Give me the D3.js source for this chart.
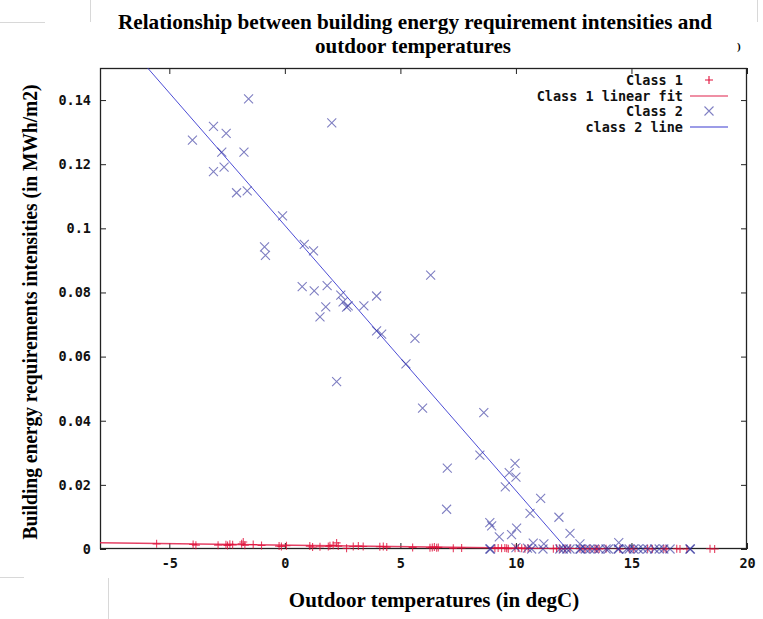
<!DOCTYPE html>
<html><head><meta charset="utf-8">
<script src="https://cdn.jsdelivr.net/npm/d3@7/dist/d3.min.js"></script>
<style>
html,body{margin:0;padding:0;background:#fff;}
svg{display:block;}
</style></head>
<body>
<script>
// ---- data ----
const titleLines = ["Relationship between building energy requirement intensities and", "outdoor temperatures"];
const xLabel = "Outdoor temperatures (in degC)";
const yLabel = "Building energy requirements intensities (in MWh/m2)";
const xTicks = [-5, 0, 5, 10, 15, 20];
const xTickLabels = ["-5", "0", "5", "10", "15", "20"];
const yTicks = [0, 0.02, 0.04, 0.06, 0.08, 0.1, 0.12, 0.14];
const yTickLabels = ["0", "0.02", "0.04", "0.06", "0.08", "0.1", "0.12", "0.14"];
const legendLabels = ["Class 1", "Class 1 linear fit", "Class 2", "class 2 line"];

// Class 1 points (temperature, intensity)
const class1X = [-5.55,-3.97,-3.85,-2.89,-2.55,-2.48,-2.38,-2.26,-1.87,-1.80,-1.73,-1.37,-1.01,-0.25,-0.15,0.07,
  1.08,1.20,1.52,1.88,1.95,2.09,2.24,2.31,2.67,2.96,3.18,3.39,4.11,4.26,4.41,5.53,
  6.28,6.38,6.47,6.57,6.64,7.29,7.65,9.09,9.23,9.38,9.52,9.60,9.67,9.96,10.10,10.25,10.39,10.53,
  11.62,11.76,11.90,12.12,12.34,12.77,12.99,13.20,13.42,13.50,13.60,13.90,14.50,14.90,15.10,15.70,15.90,
  16.40,16.50,16.96,17.10,17.40,18.40,18.60];
const class1Y = [0.0016,0.0014,0.0012,0.0012,0.0013,0.0011,0.0015,0.0013,0.0016,0.0022,0.0012,0.0014,0.0011,0.0009,0.0008,0.0010,
  0.0009,0.0006,0.0007,0.0008,0.0010,0.0012,0.0019,0.0009,0.0002,0.0008,0.0009,0.0008,0.0007,0.0008,0.0006,0.0005,
  0.0004,0.0005,0.0006,0.0004,0.0005,0.0002,0.0003,0.0002,0.0003,0.0002,0.0003,0.0002,0.0001,0.0002,0.0003,0.0002,0.0001,0.0002,
  0.0001,0.0002,0.0001,0.0001,0.0002,0.0001,0.0000,0.0001,0.0000,0.0001,0.0000,0.0001,0.0000,0.0001,0.0000,0.0001,0.0000,
  0.0001,0.0000,0.0001,0.0000,0.0000,0.0001,0.0000];

// Class 2 points
const class2X = [-4.00,-3.09,-2.54,-2.73,-3.09,-2.63,-1.77,-1.57,-2.09,-1.63,-0.10,-0.88,-0.84,0.84,1.24,0.75,1.27,1.83,1.77,2.03,
  1.52,2.42,2.52,2.67,2.74,3.42,3.97,3.97,4.19,6.31,5.63,5.24,2.24,5.96,8.61,8.44,7.03,9.96,9.71,10.00,9.54,7.00,11.07,10.61,11.86,
  12.34,8.87,8.95,9.28,9.81,10.03,10.75,11.21,12.77,14.45,
  8.87,8.90,10.00,10.50,10.68,11.17,11.90,12.05,12.20,12.34,12.77,12.80,13.00,13.20,13.40,13.60,13.90,14.00,14.42,14.45,14.80,14.90,
  15.10,15.30,15.50,15.70,16.00,16.20,16.40,16.67,17.53,17.55];
const class2Y = [0.1275,0.1318,0.1296,0.1238,0.1177,0.1191,0.1238,0.1404,0.1111,0.1117,0.1039,0.0942,0.0916,0.0950,0.0930,0.0818,0.0805,0.0821,0.0755,0.1329,
  0.0724,0.0792,0.0771,0.0754,0.0758,0.0758,0.0789,0.0680,0.0670,0.0854,0.0657,0.0577,0.0522,0.0439,0.0425,0.0293,0.0252,0.0267,0.0238,0.0224,0.0194,0.0124,0.0158,0.0111,0.0099,
  0.0049,0.0082,0.0072,0.0038,0.0045,0.0065,0.0018,0.0016,0.0016,0.0020,
  0.0000,0.0000,0.0004,0.0003,0.0000,0.0000,0.0000,0.0000,0.0000,0.0000,0.0000,0.0000,0.0000,0.0000,0.0000,0.0000,0.0000,0.0000,0.0000,0.0000,0.0000,0.0000,
  0.0000,0.0000,0.0000,0.0000,0.0000,0.0000,0.0000,0.0000,0.0000,0.0000];

// Fit lines (intercept, slope) and x extents
const fit1 = {intercept: 0.00120, slope: -0.0000925, xFrom: -8, xTo: 18.7};
const fit2 = {intercept: 0.1009, slope: -0.00827, xFrom: -8, xTo: 12.2};

// ---- layout ----
const W = 763, H = 619;
const pL = 100, pR = 747, pT = 68, pB = 549;
const xDomain = [-8, 20], yDomain = [0, 0.15];

const svg = d3.select("body").append("svg").attr("width", W).attr("height", H);
const x = d3.scaleLinear().domain(xDomain).range([pL, pR]);
const y = d3.scaleLinear().domain(yDomain).range([pB, pT]);

// faint screenshot artifacts
const art = svg.append("g").attr("stroke", "#d8d8d8").attr("stroke-width", 1);
art.append("line").attr("x1", 90.5).attr("x2", 90.5).attr("y1", 0).attr("y2", 22);
art.append("line").attr("x1", 0).attr("x2", 45).attr("y1", 22.5).attr("y2", 22.5);
art.append("line").attr("x1", 108.5).attr("x2", 108.5).attr("y1", 578).attr("y2", 619);
art.append("line").attr("x1", 0).attr("x2", 24).attr("y1", 577.5).attr("y2", 577.5);
art.append("line").attr("x1", 757.5).attr("x2", 757.5).attr("y1", 0).attr("y2", 22);

// title
const serif = "'Liberation Serif','Times New Roman',serif";
svg.append("text").attr("x", 415).attr("y", 29).attr("text-anchor", "middle")
  .attr("font-family", serif).attr("font-weight", "bold").attr("font-size", 21)
  .attr("textLength", 594).attr("lengthAdjust", "spacingAndGlyphs").text(titleLines[0]);
svg.append("text").attr("x", 413).attr("y", 53).attr("text-anchor", "middle")
  .attr("font-family", serif).attr("font-weight", "bold").attr("font-size", 21)
  .text(titleLines[1]);
svg.append("text").attr("x", 737).attr("y", 50).attr("font-family", serif).attr("font-weight", "bold")
  .attr("font-size", 11).text(")");

// axis labels
svg.append("text").attr("x", 434).attr("y", 607).attr("text-anchor", "middle")
  .attr("font-family", serif).attr("font-weight", "bold").attr("font-size", 21)
  .text(xLabel);
svg.append("text").attr("transform", "translate(37,312) rotate(-90)").attr("text-anchor", "middle")
  .attr("font-family", serif).attr("font-weight", "bold").attr("font-size", 21)
  .attr("textLength", 455).attr("lengthAdjust", "spacingAndGlyphs")
  .text(yLabel);

// clip
svg.append("defs").append("clipPath").attr("id", "clip")
  .append("rect").attr("x", pL).attr("y", pT).attr("width", pR - pL).attr("height", pB - pT);

const mono = "'DejaVu Sans Mono','Liberation Mono',monospace";
const monoSize = 13.5;
const tickColor = "#222";
const tickLen = 6;

// axes
const axB = svg.append("g").attr("transform", `translate(0,${pB})`)
  .call(d3.axisBottom(x).tickValues(xTicks).tickSize(-tickLen).tickPadding(11)
    .tickFormat((d, i) => xTickLabels[i]));
const axT = svg.append("g").attr("transform", `translate(0,${pT})`)
  .call(d3.axisTop(x).tickValues(xTicks).tickSize(-tickLen).tickFormat(""));
const axL = svg.append("g").attr("transform", `translate(${pL},0)`)
  .call(d3.axisLeft(y).tickValues(yTicks).tickSize(-tickLen).tickPadding(9)
    .tickFormat((d, i) => yTickLabels[i]));
const axR = svg.append("g").attr("transform", `translate(${pR},0)`)
  .call(d3.axisRight(y).tickValues(yTicks).tickSize(-tickLen).tickFormat(""));
[axB, axT, axL, axR].forEach(g => {
  g.select(".domain").remove();
  g.selectAll(".tick line").attr("stroke", tickColor);
  g.selectAll("text").attr("font-family", mono).attr("font-weight", "bold")
    .attr("font-size", monoSize).attr("fill", "#111");
});
axB.selectAll("text").attr("dy", "0.6em");

// border
svg.append("rect").attr("x", pL + 0.5).attr("y", pT + 0.5)
  .attr("width", pR - pL - 1).attr("height", pB - pT - 1)
  .attr("fill", "none").attr("stroke", "#222").attr("stroke-width", 1.3);

// fit lines
const red = "#e0204a", blue = "#3a3ad0";
const lineGen = d3.line().x(d => x(d[0])).y(d => y(d[1]));
function fitPts(f) { return [[f.xFrom, f.intercept + f.slope * f.xFrom], [f.xTo, f.intercept + f.slope * f.xTo]]; }
const lines = svg.append("g").attr("clip-path", "url(#clip)");
lines.append("path").datum(fitPts(fit1)).attr("d", lineGen).attr("fill", "none")
  .attr("stroke", red).attr("stroke-width", 1.4).attr("opacity", 0.85);
lines.append("path").datum(fitPts(fit2)).attr("d", lineGen).attr("fill", "none")
  .attr("stroke", blue).attr("stroke-width", 1).attr("opacity", 0.9);

// markers
const c1 = class1X.map((v, i) => [v, class1Y[i]]);
const c2 = class2X.map((v, i) => [v, class2Y[i]]);
const plusPath = s => `M${-s},0H${s}M0,${-s}V${s}`;
const crossPath = s => `M${-s},${-s}L${s},${s}M${-s},${s}L${s},${-s}`;

svg.append("g").selectAll("path").data(c1).join("path")
  .attr("transform", d => `translate(${x(d[0])},${y(d[1])})`)
  .attr("d", plusPath(4)).attr("stroke", "#e0103a").attr("stroke-width", 1.1).attr("opacity", 0.8).attr("fill", "none");
svg.append("g").selectAll("path").data(c2).join("path")
  .attr("transform", d => `translate(${x(d[0])},${y(d[1])})`)
  .attr("d", crossPath(4.5)).attr("stroke", "#2a2a9a").attr("stroke-width", 1.1).attr("opacity", 0.6).attr("fill", "none");

// legend
const lg = svg.append("g");
const lgY = [80, 96, 111, 127];
legendLabels.forEach((t, i) => {
  lg.append("text").attr("x", 683).attr("y", lgY[i]).attr("dy", "0.35em").attr("text-anchor", "end")
    .attr("font-family", mono).attr("font-weight", "bold").attr("font-size", monoSize).attr("fill", "#111").text(t);
});
lg.append("path").attr("transform", `translate(709,${lgY[0]})`).attr("d", plusPath(4))
  .attr("stroke", "#e0103a").attr("stroke-width", 1.1).attr("fill", "none");
lg.append("line").attr("x1", 690).attr("x2", 728).attr("y1", lgY[1]).attr("y2", lgY[1])
  .attr("stroke", red).attr("stroke-width", 1.2);
lg.append("path").attr("transform", `translate(709,${lgY[2]})`).attr("d", crossPath(4.5))
  .attr("stroke", "#2a2a9a").attr("stroke-width", 1.1).attr("opacity", 0.6).attr("fill", "none");
lg.append("line").attr("x1", 690).attr("x2", 728).attr("y1", lgY[3]).attr("y2", lgY[3])
  .attr("stroke", blue).attr("stroke-width", 1.2);
</script>
</body></html>
